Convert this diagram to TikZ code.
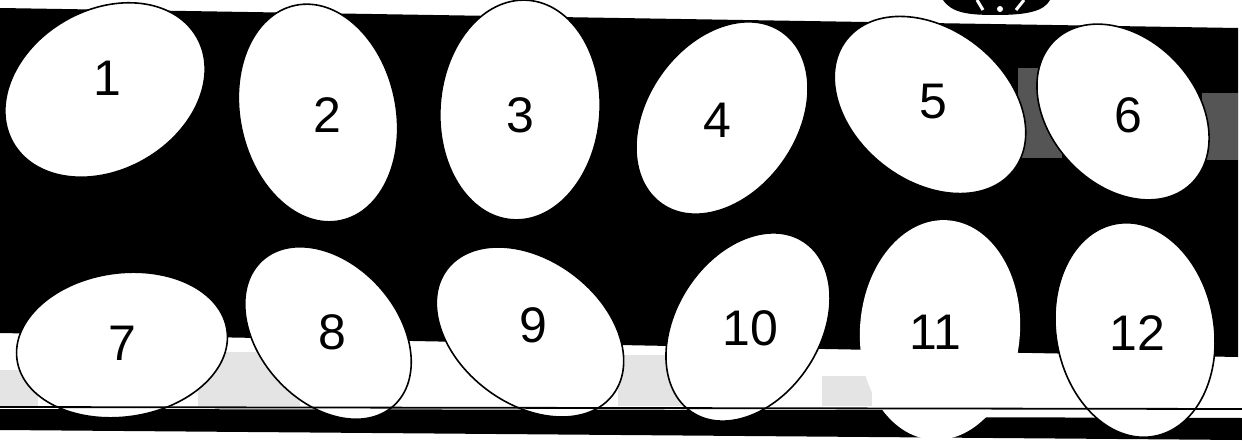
\documentclass[tikz,border=0pt]{standalone}
\usepackage{fontspec}
\setmainfont{Liberation Sans}
\definecolor{scangray}{RGB}{85,85,85}
\definecolor{specklegray}{RGB}{228,228,228}

\begin{document}
\begin{tikzpicture}[
    x=0.5pt, y=0.5pt,
    band/.style={fill=black},
    egg/.style={fill=white, draw=black, line width=0.8pt},
    plainegg/.style={fill=white},
    eggnum/.style={font=\fontsize{25}{27}\selectfont, inner sep=0pt, text=black}
]
\useasboundingbox (0,0) rectangle (1242,440);
\clip (0,0) rectangle (1242,440);

% Background bands
\fill[band] (0,432) -- (1238,412) -- (1238,83) -- (0,107) -- cycle;
\fill[band] (0,31) -- (890,30) -- (890,23) -- (1242,22) -- (1242,0) -- (0,10) -- cycle;

% Scan texture
\fill[scangray] (1018,372) rectangle (1062,282);
\fill[scangray] (1202,347) rectangle (1238,280);
\fill[specklegray] (0,70) rectangle (38,34);
\fill[specklegray] (198,88) rectangle (300,34);
\fill[specklegray] (618,85) rectangle (682,34);
\fill[specklegray] (822,64) rectangle (872,34);

% Cut-off shape at the top
\fill[black] (943,440) .. controls (952,427) and (968,425) .. (996,425) .. controls (1028,425) and (1044,429) .. (1050,440) -- cycle;
\draw[white, line width=1.5pt] (977,440) -- (983,430);
\fill[white] (1000,431) circle (3);
\draw[white, line width=1.5pt] (1024,440) -- (1016,430);

% Upper row
\draw[egg, rotate around={30:(105,350)}] (105,350) ellipse (106 and 80);
\draw[egg, rotate around={102:(318,327)}] (318,327) ellipse (110 and 78);
\draw[egg, rotate around={86:(520,330)}] (520,330) ellipse (110 and 80);
\draw[egg, rotate around={55:(722,322)}] (722,322) ellipse (105 and 75);
\draw[egg, rotate around={-38:(930,335)}] (930,335) ellipse (106 and 76);
\draw[egg, rotate around={-47:(1123,328)}] (1123,328) ellipse (99 and 73);

% Lower row
\draw[egg, rotate around={8:(122,95)}] (122,95) ellipse (106 and 72);
\draw[egg, rotate around={-48:(328,107)}] (328,107) ellipse (98 and 69);
\draw[egg, rotate around={-37:(530,108)}] (530,108) ellipse (104 and 72);
\draw[egg, rotate around={57:(748,113)}] (748,113) ellipse (102 and 72);
\fill[plainegg, rotate around={86:(940,110)}] (940,110) ellipse (110 and 80);
\draw[egg, rotate around={100:(1135,110)}] (1135,110) ellipse (108 and 79);

% Rule across the strip
\draw[line width=0.9pt] (0,33) -- (1242,31);

% Labels
\node[eggnum] (n1) at (107,362) {1};
\node[eggnum] (n2) at (327,325) {2};
\node[eggnum] (n3) at (520,325) {3};
\node[eggnum] (n4) at (717,320) {4};
\node[eggnum] (n5) at (933,338) {5};
\node[eggnum] (n6) at (1128,325) {6};
\node[eggnum] (n7) at (122,97) {7};
\node[eggnum] (n8) at (332,108) {8};
\node[eggnum] (n9) at (533,115) {9};
\node[eggnum] (n10) at (750,112) {10};
\node[eggnum] (n11) at (935,108) {11};
\node[eggnum] (n12) at (1137,107) {12};

\end{tikzpicture}
\end{document}
